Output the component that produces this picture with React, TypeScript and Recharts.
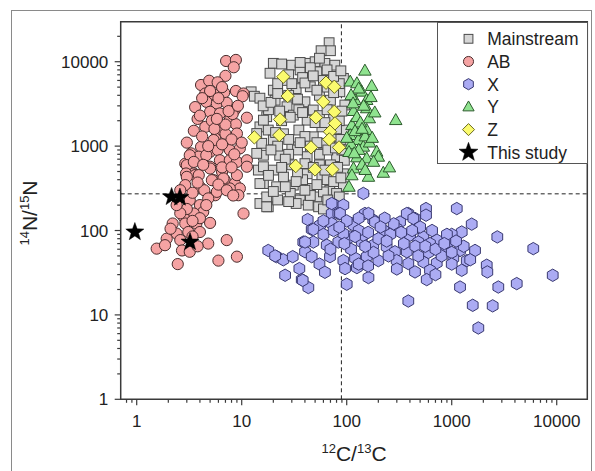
import React from "react";
import {
  Legend,
  ReferenceArea,
  ReferenceLine,
  Scatter,
  ScatterChart,
  XAxis,
  YAxis,
} from "recharts";

// values: [12C/13C, 14N/15N]
const mainstream = [
  [68, 16800], [70, 13500], [57, 13500], [20, 9570], [24, 9400], [30, 9100], [42, 9570], [50, 10000],
  [62, 9570], [77, 9100], [18.6, 7300], [36, 8000], [52, 7600], [93, 6350], [20, 4600], [33, 4800],
  [45, 5050], [86, 4400], [12.3, 4400], [13.2, 3900], [14.9, 3700], [20.8, 3500], [27, 2930], [40, 3350],
  [48, 2680], [96, 3070], [17.3, 2230], [31, 2330], [42, 2030], [14.9, 1690], [17.9, 1550], [35, 1550],
  [58, 1690], [93, 1550], [15.5, 1080], [20, 1180], [30, 980], [48, 1290], [60, 1080], [16.1, 780],
  [23, 780], [42, 750], [80, 750], [14.4, 520], [20, 520], [25, 430], [42, 470], [58, 430], [93, 470],
  [16.1, 360], [21.5, 330], [31, 345], [45, 315], [69, 300], [93, 330], [29, 275], [36, 230], [52, 250],
  [60, 287], [14.9, 209], [17.9, 191], [33, 209], [43, 200], [54, 191], [80, 275], [16.1, 2030],
  [13.9, 1410], [13.9, 820], [16.1, 570], [14.9, 360], [17.3, 250], [17.3, 191], [26, 6000], [38, 6500],
  [60, 6000], [28, 4000], [55, 4000], [70, 3500], [24, 2000], [55, 2300], [75, 2200], [25, 1400],
  [40, 1300], [75, 1200], [34, 900], [55, 800], [70, 600], [30, 600], [85, 1000], [65, 400], [38, 400],
  [26, 330], [80, 200], [60, 180], [22, 230], [85, 250], [45, 8500], [65, 8000], [28, 7000], [22, 5500],
  [85, 5500], [40, 5600], [65, 5000], [18, 2700], [35, 2700], [65, 2700], [85, 2000], [22, 1000],
  [45, 1000], [90, 900], [28, 800], [55, 600], [18, 450], [34, 480], [75, 380], [45, 260], [28, 220],
  [20, 290], [95, 680], [88, 1200], [16, 3000], [19, 3300], [23, 2600], [29, 2200], [38, 2500],
  [50, 1900], [62, 1900], [80, 1600], [90, 2600], [21, 1450], [28, 1200], [36, 1100], [52, 1100],
  [66, 900], [78, 950], [19, 900], [26, 700], [40, 620], [48, 560], [62, 520], [82, 560], [24, 560],
  [33, 380], [52, 350], [88, 420], [40, 300], [66, 230], [22, 4200], [34, 3600], [52, 4600], [75, 4300],
  [30, 5500], [48, 6800], [75, 6700], [88, 7800], [36, 9800], [55, 11000],
];

const ab = [
  [7.1, 10200], [8.8, 10500], [8.4, 8600], [7.0, 6800], [4.1, 5300], [4.9, 5950], [5.9, 5700], [4.5, 4200],
  [5.45, 4100], [6.8, 4300], [8.8, 4500], [10.4, 4200], [3.6, 2900], [4.6, 3350], [5.8, 3200], [7.2, 3260],
  [8.6, 2700], [11.2, 2170], [5.0, 2550], [6.2, 2440], [7.7, 2030], [3.5, 1520], [4.5, 1690], [6.1, 1580],
  [8.8, 1820], [9.0, 1410], [5.6, 1230], [4.1, 980], [3.3, 820], [3.9, 750], [5.0, 856], [5.9, 900],
  [7.7, 900], [9.6, 940], [6.2, 680], [7.7, 680], [9.0, 650], [11.2, 680], [2.9, 620], [5.0, 570],
  [3.5, 474], [6.5, 495], [10.2, 3900], [5.4, 1180], [3.2, 780], [4.6, 780], [11.2, 570], [3.0, 595],
  [2.95, 474], [3.6, 453], [5.0, 543], [5.4, 395], [6.9, 395], [8.6, 361], [9.6, 315], [5.6, 262],
  [3.2, 229], [4.0, 200], [10.4, 159], [3.0, 432], [3.9, 453], [5.2, 395], [6.7, 414], [9.0, 453],
  [2.9, 345], [4.0, 329], [5.8, 287], [7.7, 315], [9.3, 262], [4.3, 166], [3.5, 159], [2.8, 145],
  [2.2, 121], [2.9, 121], [3.7, 121], [5.0, 123], [2.4, 92], [3.1, 96], [4.0, 96], [1.93, 80], [2.6, 77],
  [4.8, 70], [7.2, 77], [1.55, 61], [1.86, 67], [2.7, 58], [3.2, 56], [9.0, 49], [6.0, 44], [2.46, 40],
  [4.4, 300], [3.4, 280], [4.8, 240], [6.5, 560], [8.0, 560], [4.2, 1300], [7.0, 1400], [5.2, 2000],
  [6.5, 5000], [5.0, 4500], [3.8, 2100], [8.2, 2400], [4.0, 140], [3.0, 180], [2.6, 160], [3.8, 65],
  [4.2, 3700], [6.0, 3700], [7.5, 2600], [4.0, 2300], [5.5, 1600], [7.0, 1800], [8.0, 1200], [3.0, 1100],
  [6.5, 1050], [4.8, 1000], [3.5, 650], [4.3, 600], [8.5, 800], [10.0, 1100], [6.0, 350], [7.2, 300],
  [8.3, 260], [3.8, 370], [2.6, 300], [4.6, 200], [3.4, 130], [2.4, 200], [2.1, 105], [3.4, 85],
  [5.8, 2100], [9.2, 3000],
];

const groupX = [
  [144, 275], [1117, 182], [569, 182], [386, 159], [447, 139], [569, 152], [322, 126], [1550, 119],
  [1245, 96], [1000, 90], [2717, 84], [5980, 61], [9160, 29.5], [42.5, 135], [46.4, 103], [55.7, 116],
  [71.9, 159], [77.4, 200], [92.9, 200], [83.2, 159], [116, 121], [149, 159], [179, 133], [223, 101],
  [299, 106], [401, 88], [537, 84], [720, 77], [928, 73], [38.6, 73], [48.1, 73], [64.5, 67], [83.2, 73],
  [108, 84], [139, 73], [179, 67], [240, 64], [288, 56], [373, 56], [481, 73], [621, 70], [803, 61],
  [1200, 58], [1667, 58], [17.9, 58], [21.5, 49], [24.9, 45], [30.6, 49], [40.1, 56], [46.4, 49],
  [69.3, 49], [92.9, 44], [120, 47], [155, 49], [200, 44], [299, 44], [386, 40.6], [537, 42.5],
  [720, 41.3], [1036, 47], [1390, 44], [35.4, 35.4], [96.4, 35.4], [125, 36.4], [447, 32.3], [621, 33.8],
  [1245, 33.8], [2155, 38.8], [2183, 32.3], [25.9, 29.5], [37.3, 26.2], [43.1, 21.1], [161, 27.7],
  [578, 26.2], [1200, 21.4], [2778, 21.4], [4160, 23.5], [100, 23.1], [386, 14.6], [1585, 13.0],
  [2455, 12.8], [1792, 7.0], [20.8, 50], [38.1, 25.7], [48.1, 103], [40.1, 73], [71.9, 209], [86.3, 159],
  [71.9, 121], [92.9, 92], [116, 116], [161, 159], [186, 126], [144, 88], [373, 159], [431, 139],
  [60, 90], [75, 100], [130, 100], [200, 80], [260, 90], [350, 70], [450, 65], [600, 55], [800, 50],
  [1000, 55], [250, 50], [180, 55], [110, 60], [70, 60], [55, 40], [130, 40], [300, 35], [700, 30],
  [1500, 45], [1300, 65], [900, 90], [500, 110], [650, 100], [280, 120], [230, 140], [130, 140], [100, 130],
  [60, 130], [85, 110], [120, 85], [160, 95], [210, 110], [150, 65], [95, 70], [240, 75], [330, 95],
  [420, 100], [480, 50], [560, 65], [700, 60], [850, 70], [1100, 75], [1000, 40], [160, 38], [62, 32],
];

const groupY = [
  [149, 7820], [108, 5800], [125, 5540], [173, 5150], [139, 4410], [120, 3510], [155, 3510], [116, 2600],
  [155, 2800], [164, 2130], [293, 2030], [112, 1770], [155, 1550], [108, 1350], [129, 1180], [144, 982],
  [193, 856], [125, 734], [155, 714], [200, 747], [116, 543], [161, 432], [223, 482], [255, 558],
  [105, 329], [130, 4800], [110, 4000], [145, 3000], [125, 2200], [135, 1900], [120, 1500], [150, 1300],
  [110, 1050], [165, 1100], [130, 900], [105, 850], [180, 650], [140, 600], [112, 450], [170, 3800],
  [115, 3200], [185, 2500], [140, 1600], [100, 1250], [175, 1250], [118, 820], [150, 520],
];

const groupZ = [
  [24.9, 6640], [63.5, 5640], [76.2, 5050], [27.4, 3920], [59.8, 3350], [76.2, 2550], [23.2, 2070],
  [51, 2190], [77.4, 1860], [13.2, 1270], [22.8, 1350], [69.3, 1480], [68.3, 1200], [45.7, 966],
  [84.5, 966], [32.7, 580], [49.9, 529], [72.9, 529],
];

const thisStudy = [[2.15, 250], [2.58, 246], [0.96, 96], [3.22, 73]];

const xMajor = [1, 10, 100, 1000, 10000];
const xMinor = [
  0.8, 0.9, 2, 3, 4, 5, 6, 7, 8, 9, 20, 30, 40, 50, 60, 70, 80, 90, 200, 300, 400, 500, 600, 700, 800, 900,
  2000, 3000, 4000, 5000, 6000, 7000, 8000, 9000,
];
const yMajor = [1, 10, 100, 1000, 10000];
const yMinor = [
  2, 3, 4, 5, 6, 7, 8, 9, 20, 30, 40, 50, 60, 70, 80, 90, 200, 300, 400, 500, 600, 700, 800, 900,
  2000, 3000, 4000, 5000, 6000, 7000, 8000, 9000, 20000,
];

const solarC = 89;
const solarN = 272;

const legendNames = ["Mainstream", "AB", "X", "Y", "Z", "This study"];

const W = 595;
const H = 471;
const PLOT = { left: 120.7, top: 21.7, right: 587.3, bottom: 399.3 };
const X_DOMAIN: [number, number] = [0.704, 19550];
const Y_DOMAIN: [number, number] = [1, 29800];
const AXIS = "#3a3a3a";
const FONT = '"Liberation Sans", Arial, sans-serif';

const pts = (a: number[][]) => a.map(([x, y]) => ({ x, y }));

const STYLE = {
  mainstream: { fill: "#d6d6d6", stroke: "#4a4a4a" },
  ab: { fill: "#f5a3a3", stroke: "#4a2c2c" },
  x: { fill: "#ababf3", stroke: "#383870" },
  y: { fill: "#8fe38f", stroke: "#2c5a2c" },
  z: { fill: "#fbfb6e", stroke: "#6a6a22" },
};

function Marker({ kind, cx, cy, k = 1 }: { kind: string; cx: number; cy: number; k?: number }) {
  const sw = 1;
  if (kind === "mainstream") {
    const s = 9.8 * k;
    return <rect x={cx - s / 2} y={cy - s / 2} width={s} height={s} {...STYLE.mainstream} strokeWidth={sw} />;
  }
  if (kind === "ab") return <circle cx={cx} cy={cy} r={5.6 * k} {...STYLE.ab} strokeWidth={sw} />;
  if (kind === "x") {
    const r = 6.2 * k;
    const p = [-90, -30, 30, 90, 150, 210]
      .map((a) => `${cx + r * Math.cos((a * Math.PI) / 180)},${cy + r * Math.sin((a * Math.PI) / 180)}`)
      .join(" ");
    return <polygon points={p} {...STYLE.x} strokeWidth={sw} />;
  }
  if (kind === "y") {
    const h = 11 * k;
    const w = 12.5 * k;
    const p = `${cx},${cy - h * 0.6} ${cx + w / 2},${cy + h * 0.4} ${cx - w / 2},${cy + h * 0.4}`;
    return <polygon points={p} {...STYLE.y} strokeWidth={sw} />;
  }
  if (kind === "z") {
    const r = 6.7 * k;
    const p = `${cx},${cy - r} ${cx + r},${cy} ${cx},${cy + r} ${cx - r},${cy}`;
    return <polygon points={p} {...STYLE.z} strokeWidth={sw} />;
  }
  const ro = 9.5 * k;
  const ri = 3.9 * k;
  const p = Array.from({ length: 10 }, (_, i) => {
    const a = ((-90 + i * 36) * Math.PI) / 180;
    const r = i % 2 === 0 ? ro : ri;
    return `${cx + r * Math.cos(a)},${cy + r * Math.sin(a)}`;
  }).join(" ");
  return <polygon points={p} fill="#000" stroke="#000" strokeWidth={0.5} />;
}

const shapeOf = (kind: string) => (props: any) =>
  props.cx == null ? <g /> : <Marker kind={kind} cx={props.cx} cy={props.cy} />;

function XTick(props: any) {
  const { x, y, payload } = props;
  const major = xMajor.includes(payload.value);
  return (
    <g>
      <line x1={x} x2={x} y1={y} y2={y + (major ? 6 : 3.5)} stroke={AXIS} strokeWidth={1.2} />
      {major && (
        <text x={x} y={y + 27.5} textAnchor="middle" fontSize={17} fill="#222" fontFamily={FONT}>
          {payload.value}
        </text>
      )}
    </g>
  );
}

function YTick(props: any) {
  const { x, y, payload } = props;
  const major = yMajor.includes(payload.value);
  return (
    <g>
      <line x1={x - (major ? 6 : 3.5)} x2={x} y1={y} y2={y} stroke={AXIS} strokeWidth={1.2} />
      {major && (
        <text x={x - 12.4} y={y + 6} textAnchor="end" fontSize={17} fill="#222" fontFamily={FONT}>
          {payload.value}
        </text>
      )}
    </g>
  );
}

function XTitle() {
  return (
    <text x={(PLOT.left + PLOT.right) / 2} y={461} textAnchor="middle" fill="#222" fontFamily={FONT}>
      <tspan fontSize={13} dy={-8}>12</tspan>
      <tspan fontSize={21} dy={8}>C/</tspan>
      <tspan fontSize={13} dy={-8}>13</tspan>
      <tspan fontSize={21} dy={8}>C</tspan>
    </text>
  );
}

function YTitle() {
  const cx = 37;
  const cy = 213;
  return (
    <text x={cx} y={cy} transform={`rotate(-90 ${cx} ${cy})`} textAnchor="middle" fill="#222" fontFamily={FONT}>
      <tspan fontSize={13} dy={-8}>14</tspan>
      <tspan fontSize={21} dy={8}>N/</tspan>
      <tspan fontSize={13} dy={-8}>15</tspan>
      <tspan fontSize={21} dy={8}>N</tspan>
    </text>
  );
}

const kinds = ["mainstream", "ab", "x", "y", "z", "star"];

function LegendBox() {
  return (
    <svg width={151} height={142} style={{ display: "block" }}>
      <rect x={0.5} y={0.5} width={150} height={141} fill="#fff" stroke="#555" strokeWidth={1} />
      {legendNames.map((name, i) => {
        const cy = 16.8 + i * 22.7;
        return (
          <g key={name}>
            <Marker kind={kinds[i]} cx={31.5} cy={cy} k={i === 5 ? 1.05 : 0.9} />
            <text x={50.2} y={cy + 6.3} fontSize={17.5} fill="#222" fontFamily={FONT}>
              {name}
            </text>
          </g>
        );
      })}
    </svg>
  );
}

export default function App() {
  return (
    <div
      style={{
        position: "absolute",
        left: 0,
        top: 0,
        width: W,
        height: H,
        background: "#fff",
        overflow: "hidden",
        fontFamily: FONT,
      }}
    >
      <div
        style={{
          position: "absolute",
          left: 11,
          top: 9.5,
          width: 581,
          height: 480,
          border: "1px solid #8a8a8a",
          boxSizing: "border-box",
        }}
      />
      <div style={{ position: "absolute", left: 0, top: 0 }}>
        <ScatterChart
          width={W}
          height={H}
          margin={{ top: PLOT.top, right: W - PLOT.right, bottom: 0, left: 0 }}
        >
          <XAxis
            type="number"
            dataKey="x"
            scale="log"
            domain={X_DOMAIN}
            allowDataOverflow
            ticks={[...xMajor, ...xMinor].sort((a, b) => a - b)}
            interval={0}
            tick={(p: any) => <XTick {...p} />}
            tickLine={false}
            tickSize={0}
            tickMargin={0}
            axisLine={false}
            height={H - PLOT.bottom}
            label={() => <XTitle />}
          />
          <YAxis
            type="number"
            dataKey="y"
            scale="log"
            domain={Y_DOMAIN}
            allowDataOverflow
            ticks={[...yMajor, ...yMinor].sort((a, b) => a - b)}
            interval={0}
            tick={(p: any) => <YTick {...p} />}
            tickLine={false}
            tickSize={0}
            tickMargin={0}
            axisLine={false}
            width={PLOT.left}
            label={() => <YTitle />}
          />
          <ReferenceLine x={solarC} stroke="#222" strokeDasharray="4 3" strokeWidth={1} />
          <ReferenceLine y={solarN} stroke="#222" strokeDasharray="4 3" strokeWidth={1} />
          <Scatter data={pts(mainstream)} shape={shapeOf("mainstream")} isAnimationActive={false} />
          <Scatter data={pts(ab)} shape={shapeOf("ab")} isAnimationActive={false} />
          <Scatter data={pts(groupX)} shape={shapeOf("x")} isAnimationActive={false} />
          <Scatter data={pts(groupY)} shape={shapeOf("y")} isAnimationActive={false} />
          <Scatter data={pts(groupZ)} shape={shapeOf("z")} isAnimationActive={false} />
          <Scatter data={pts(thisStudy)} shape={shapeOf("star")} isAnimationActive={false} />
          <ReferenceArea
            x1={X_DOMAIN[0]}
            x2={X_DOMAIN[1]}
            y1={Y_DOMAIN[0]}
            y2={Y_DOMAIN[1]}
            fill="none"
            stroke={AXIS}
            strokeWidth={1.5}
            ifOverflow="visible"
          />
          <Legend
            layout="horizontal"
            verticalAlign="middle"
            align="center"
            content={() => <LegendBox />}
            wrapperStyle={{ left: 436.5, top: PLOT.top, width: 151, height: 142 }}
          />
        </ScatterChart>
      </div>
    </div>
  );
}
